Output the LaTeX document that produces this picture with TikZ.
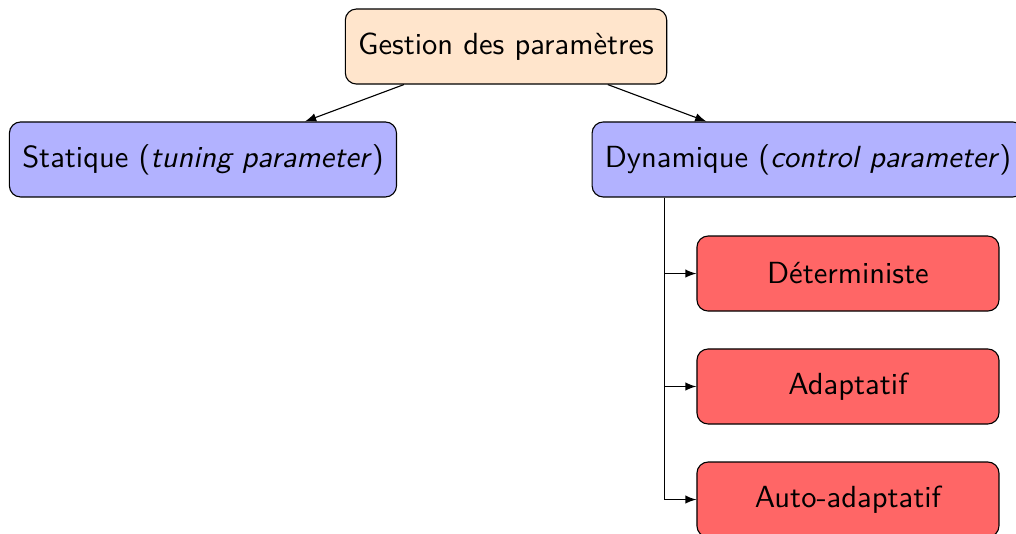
\documentclass[tikz,border=0pt]{standalone}
\usepackage{tikz}
\usetikzlibrary{positioning,arrows.meta,calc}

\begin{document}
\begin{tikzpicture}[
    box/.style={draw, rounded corners, minimum height=0.945cm, inner xsep=4.6pt,
        font=\sffamily\fontsize{10.95pt}{13.6pt}\selectfont},
    rootbox/.style={box, fill=orange!20},
    kindbox/.style={box, fill=blue!30},
    leafbox/.style={box, fill=red!60, minimum width=3.805cm},
    link/.style={-latex}
]
    % Fix the frame
    \useasboundingbox (0,0) rectangle (12.8,-6.715);

    % Draw the nodes
    \node[rootbox] (gestion) at (6.375,-0.586) {Gestion des paramètres};
    \node[kindbox] (statique) at (2.557,-2.009) {Statique (\textit{tuning parameter\/})};
    \node[kindbox] (dynamique) at (10.18,-2.009) {Dynamique (\textit{control parameter\/})};

    \node[leafbox] (determ) at (10.683,-3.446) {Déterministe};
    \node[leafbox] (adapt) at (10.683,-4.869) {Adaptatif};
    \node[leafbox] (autoadapt) at (10.683,-6.293) {Auto-adaptatif};

    % Links
    \draw[link] (gestion) -- (statique);
    \draw[link] (gestion) -- (dynamique);

    \coordinate (trunk) at ($(dynamique.south west)+(0.92,0)$);
    \draw[link] (trunk) |- (determ.west);
    \draw[link] (trunk) |- (adapt.west);
    \draw[link] (trunk) |- (autoadapt.west);
\end{tikzpicture}
\end{document}
